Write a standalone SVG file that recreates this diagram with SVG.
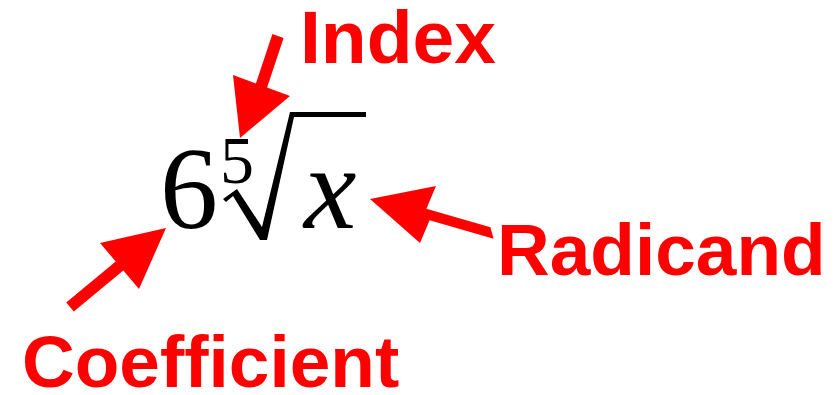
<svg xmlns="http://www.w3.org/2000/svg" width="836" height="395" viewBox="0 0 836 395">
<style>
.lbl{font-family:"Liberation Sans",Arial,sans-serif;font-weight:bold;fill:#ff0000}
.math{font-family:"Liberation Serif","Times New Roman",serif;fill:#000}
.arr{fill:#ff0000}
</style>
<rect width="836" height="395" fill="#fff"/>
<g id="expression">
<text class="math" x="160" y="228" font-size="116">6</text>
<text class="math" x="220" y="183" font-size="68">5</text>
<polygon fill="#000" points="223,199 237,189 262,227 290,112 366,112 366,117 294,117 267,240 260,240 233,196 226,202"/>
<text class="math" x="304" y="228" font-size="118" font-style="italic">x</text>
</g>
<g id="label-index"><text class="lbl" x="300" y="63" font-size="75">Index</text></g>
<g id="label-radicand"><text class="lbl" x="497" y="275" font-size="73">Radicand</text></g>
<g id="label-coefficient"><text class="lbl" x="22" y="387" font-size="73">Coefficient</text></g>
<g id="connectors">
<polygon class="arr" points="272.4,33.9 255.9,83.4 233,75 240,138 290,96 267.1,87.6 283.6,38.1"/>
<polygon class="arr" points="490.4,227.2 426.4,208.7 436,186 370,199 420,243 429.6,220.3 493.6,238.8"/>
<polygon class="arr" points="66.2,302.4 115.7,261.4 100,243 166,228 139,289 123.3,270.6 73.8,311.6"/>
</g>
</svg>
